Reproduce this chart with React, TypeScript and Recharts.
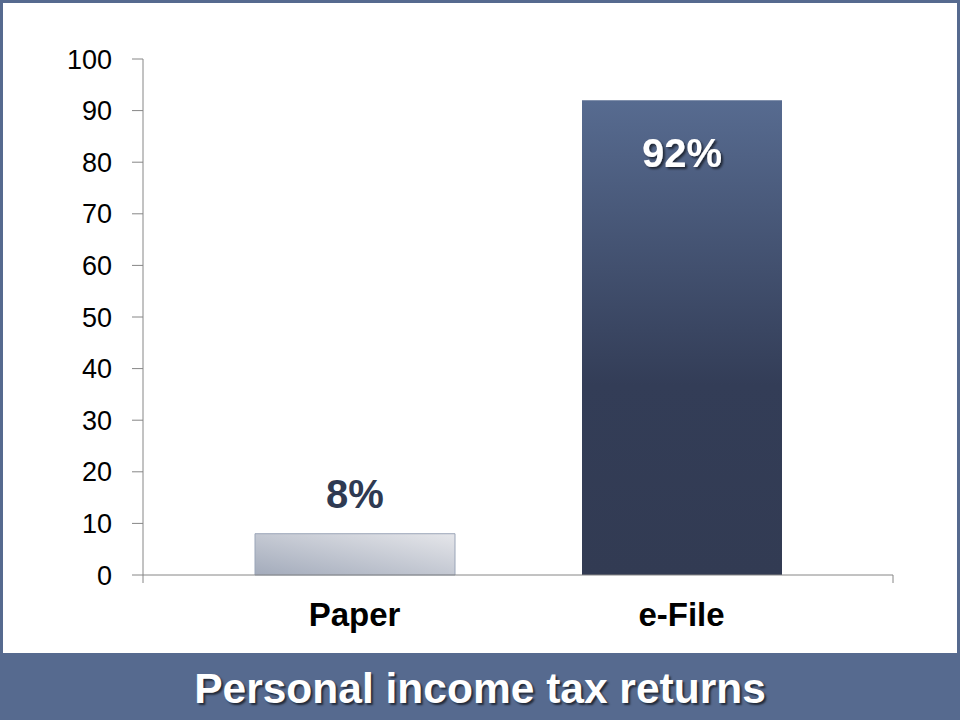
import { Bar, BarChart, Cell, LabelList, XAxis, YAxis, usePlotArea } from "recharts"

const categories = ["Paper", "e-File"]
const shares = [8, 92]
const yTicks = [0, 10, 20, 30, 40, 50, 60, 70, 80, 90, 100]
const title = "Personal income tax returns"

const FONT = '"Liberation Sans", Arial, sans-serif'
const AXIS = "#868686"
const FRAME = "#566a8f"

// little end ticks hanging under the x axis at both edges of the plot
function EdgeTicks() {
  const area = usePlotArea()
  if (!area) return null
  const bottom = area.y + area.height
  return (
    <g>
      <line x1={area.x} x2={area.x} y1={bottom} y2={bottom + 8} stroke={AXIS} strokeWidth={1} />
      <line x1={area.x + area.width} x2={area.x + area.width} y1={bottom} y2={bottom + 8} stroke={AXIS} strokeWidth={1} />
    </g>
  )
}

function CategoryTick(props: any) {
  const { x, y, payload } = props
  return (
    <text x={x} y={y} dy={51} textAnchor="middle" fontFamily={FONT} fontWeight="bold" fontSize={33} fill="#000">
      {payload.value}
    </text>
  )
}

function ShareLabel(props: any) {
  const { x, y, width, value } = props
  const cx = Number(x) + Number(width) / 2
  const inside = Number(value) > 50
  return (
    <text
      x={cx}
      y={inside ? Number(y) + 67 : Number(y) - 26}
      textAnchor="middle"
      fontFamily={FONT}
      fontWeight="bold"
      fontSize={40}
      fill={inside ? "#ffffff" : "#2f3a52"}
      filter={inside ? "url(#labelShadow)" : undefined}
    >
      {value}%
    </text>
  )
}

export default function App() {
  const data = categories.map((name, i) => ({ name, share: shares[i] }))

  return (
    <div style={{ position: "fixed", left: 0, top: 0, width: 960, height: 720, background: FRAME }}>
      <div style={{ position: "absolute", left: 3, top: 3, width: 954, height: 650, background: "#fff" }} />
      <div style={{ position: "absolute", left: 0, top: 0 }}>
        <BarChart width={960} height={720} data={data} margin={{ top: 59, right: 67, bottom: 67, left: 0 }}>
          <defs>
            <linearGradient id="paperFill" x1="0" y1="1" x2="1" y2="0">
              <stop offset="0%" stopColor="#a3abbb" />
              <stop offset="100%" stopColor="#e5e6ea" />
            </linearGradient>
            <linearGradient id="efileFill" x1="0" y1="0" x2="0" y2="1">
              <stop offset="0%" stopColor="#576b90" />
              <stop offset="60%" stopColor="#333d57" />
              <stop offset="100%" stopColor="#323b53" />
            </linearGradient>
            <filter id="labelShadow" x="-20%" y="-20%" width="140%" height="140%">
              <feDropShadow dx="2" dy="2" stdDeviation="1" floodColor="#000" floodOpacity="0.6" />
            </filter>
          </defs>
          <XAxis
            dataKey="name"
            axisLine={{ stroke: AXIS }}
            tickLine={false}
            tickSize={0}
            tickMargin={0}
            height={78}
            padding={{ left: 48, right: 48 }}
            tick={<CategoryTick />}
            interval={0}
          />
          <YAxis
            domain={[0, 100]}
            ticks={yTicks}
            width={143}
            axisLine={{ stroke: AXIS }}
            tickLine={{ stroke: AXIS }}
            tickSize={11}
            tickMargin={20}
            tick={{ fill: "#000", fontSize: 27, fontFamily: FONT }}
            interval={0}
          />
          <Bar dataKey="share" barSize={200} isAnimationActive={false}>
            {data.map((d, i) => (
              <Cell
                key={d.name}
                fill={i === 0 ? "url(#paperFill)" : "url(#efileFill)"}
                stroke={i === 0 ? "#9aa5b8" : "none"}
              />
            ))}
            <LabelList dataKey="share" content={<ShareLabel />} />
          </Bar>
          <EdgeTicks />
        </BarChart>
      </div>
      <div
        style={{
          position: "absolute",
          left: 0,
          top: 657,
          width: 960,
          height: 63,
          textAlign: "center",
          color: "#fff",
          fontFamily: FONT,
          fontWeight: "bold",
          fontSize: 42.5,
          lineHeight: "63px",
          textShadow: "2px 2px 2px rgba(0,0,0,0.6)",
        }}
      >
        {title}
      </div>
    </div>
  )
}
